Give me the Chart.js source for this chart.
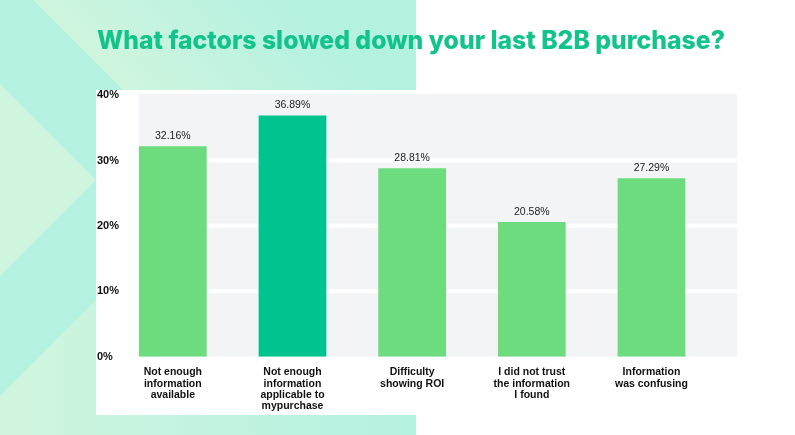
<!DOCTYPE html>
<html>
<head>
<meta charset="utf-8">
<script src="https://cdn.jsdelivr.net/npm/chart.js@4.4.1/dist/chart.umd.min.js"></script>
<style>
  html, body { margin: 0; padding: 0; background: #ffffff; }
  #wrap { position: relative; width: 795px; height: 435px; overflow: hidden; }
  #bg { position: absolute; left: 0; top: 0; }
  #chart { position: absolute; left: 0; top: 0; }
</style>
</head>
<body>
<div id="wrap">
  <svg id="bg" width="795" height="435" xmlns="http://www.w3.org/2000/svg">
    <defs>
      <linearGradient id="gTop" gradientUnits="userSpaceOnUse" x1="78" y1="45" x2="205" y2="-82">
        <stop offset="0" stop-color="#d0f5de"/>
        <stop offset="1" stop-color="#b4f1e1"/>
      </linearGradient>
      <linearGradient id="gBot" gradientUnits="userSpaceOnUse" x1="0" y1="0" x2="416" y2="0">
        <stop offset="0" stop-color="#d0f5de"/>
        <stop offset="1" stop-color="#b4f1e1"/>
      </linearGradient>
    </defs>
    <rect x="0" y="0" width="416" height="435" fill="#b4f1e1"/>
    <polygon points="33,0 416,0 416,383" fill="url(#gTop)"/>
    <polygon points="0,84 96,180 0,276" fill="#d0f5de"/>
    <polygon points="0,396 96,300 416,300 416,435 0,435" fill="url(#gBot)"/>
    <rect x="96" y="90" width="699" height="325" fill="#ffffff"/>
  </svg>
  <canvas id="chart" width="795" height="435"></canvas>
</div>
<script>
// ---- data ----
const categories = [
  ["Not enough", "information", "available"],
  ["Not enough", "information", "applicable to", "mypurchase"],
  ["Difficulty", "showing ROI"],
  ["I did not trust", "the information", "I found"],
  ["Information", "was confusing"]
];
const values = [32.16, 36.89, 28.81, 20.58, 27.29];
const barColors = ["#6ddc7e", "#00c48f", "#6ddc7e", "#6ddc7e", "#6ddc7e"];
const yTickValues = [0, 10, 20, 30, 40];
const titleText = "What factors slowed down your last B2B purchase?";

const BAR_PCT = 0.566;

// grey plot panel + white grid bands, shifted so bars sit at the left of each slot
const panelPlugin = {
  id: "panel",
  beforeDraw(chart) {
    const { ctx, chartArea, scales } = chart;
    const x = scales.x, y = scales.y;
    const slot = x.getPixelForValue(1) - x.getPixelForValue(0);
    const off = (slot - slot * BAR_PCT) / 2;
    const left = chartArea.left + off;
    const right = chartArea.right + off;
    ctx.save();
    ctx.fillStyle = "#f3f4f6";
    ctx.fillRect(left, chartArea.top - 1, right - left, chartArea.bottom - chartArea.top + 1);
    ctx.strokeStyle = "#ffffff";
    ctx.lineWidth = 4;
    yTickValues.forEach(v => {
      if (v === yTickValues[0] || v === yTickValues[yTickValues.length - 1]) return;
      const py = y.getPixelForValue(v);
      ctx.beginPath();
      ctx.moveTo(left, py);
      ctx.lineTo(right, py);
      ctx.stroke();
    });
    ctx.restore();
  }
};

const valueLabelPlugin = {
  id: "valueLabels",
  afterDatasetsDraw(chart) {
    const { ctx } = chart;
    const meta = chart.getDatasetMeta(0);
    ctx.save();
    ctx.font = "10.5px 'Liberation Sans', Arial, sans-serif";
    ctx.fillStyle = "#222222";
    ctx.textAlign = "center";
    ctx.textBaseline = "middle";
    meta.data.forEach((bar, i) => {
      ctx.fillText(values[i].toFixed(2) + "%", bar.x, bar.y - 10);
    });
    ctx.restore();
  }
};

new Chart(document.getElementById("chart"), {
  type: "bar",
  data: {
    labels: categories,
    datasets: [{
      data: values,
      backgroundColor: barColors,
      borderWidth: 0,
      barPercentage: BAR_PCT,
      categoryPercentage: 1
    }]
  },
  options: {
    responsive: false,
    devicePixelRatio: 1,
    animation: false,
    layout: { padding: { left: 97, right: 70, top: 0, bottom: 13 } },
    plugins: {
      legend: { display: false },
      tooltip: { enabled: false },
      title: {
        display: true,
        text: titleText,
        color: "#12c48b",
        font: { family: "Inter, 'Open Sans', sans-serif", size: 25.5, weight: 800 },
        padding: { top: 26.5, bottom: 38 }
      }
    },
    scales: {
      x: {
        grid: { display: false, drawTicks: false },
        border: { display: false },
        ticks: {
          autoSkip: false,
          maxRotation: 0,
          padding: 10,
          color: "#111111",
          font: { family: "'Liberation Sans', Arial, sans-serif", size: 10.5, weight: "bold", lineHeight: 1.08 }
        }
      },
      y: {
        min: 0,
        max: 40,
        grid: { display: false, drawTicks: false },
        border: { display: false },
        afterFit(scale) { scale.width = 16; },
        ticks: {
          stepSize: 10,
          mirror: true,
          padding: -16,
          labelOffset: 0,
          color: "#111111",
          font: { family: "'Liberation Sans', Arial, sans-serif", size: 11, weight: "bold" },
          callback: v => v + "%"
        }
      },
      yRight: {
        type: "linear",
        position: "right",
        display: true,
        grid: { display: false, drawTicks: false },
        border: { display: false },
        ticks: { display: false },
        afterFit(scale) { scale.width = 13.7; }
      }
    }
  },
  plugins: [panelPlugin, valueLabelPlugin]
});
</script>
</body>
</html>
